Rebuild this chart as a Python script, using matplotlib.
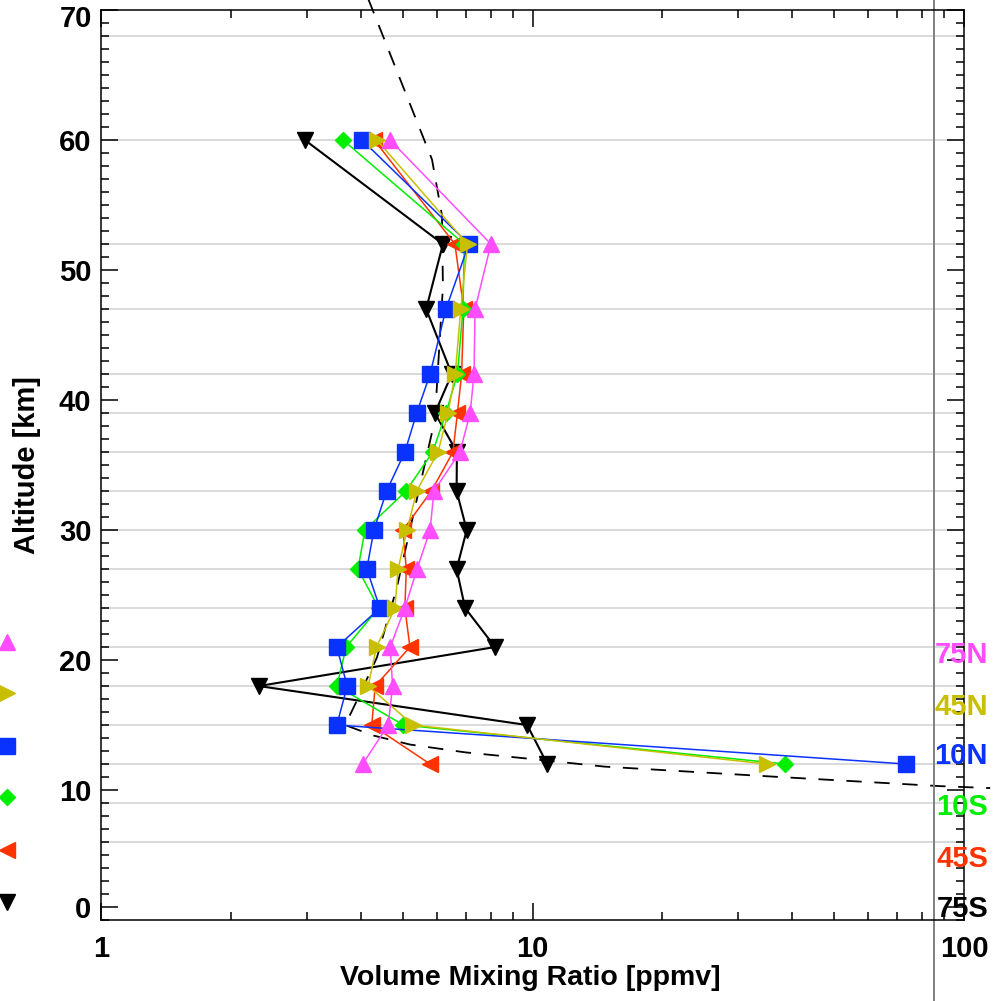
import matplotlib.pyplot as plt
from matplotlib.ticker import FixedLocator, NullFormatter

plt.rcParams['font.family'] = ['Liberation Sans', 'DejaVu Sans']

# altitude levels [km] of the profiles
altitude = [12, 15, 18, 21, 24, 27, 30, 33, 36, 39, 42, 47, 52, 60]

# volume mixing ratio [ppmv] per latitude band
vmr_75n = [4.04, 4.63, 4.74, 4.68, 5.06, 5.40, 5.79, 5.91, 6.79, 7.17, 7.32, 7.36, 8.01, 4.68]
vmr_45n = [34.9, 5.29, 4.16, 4.35, 4.80, 4.88, 5.12, 5.39, 6.04, 6.37, 6.62, 6.82, 7.07, 4.36]
vmr_10n = [73.4, 3.52, 3.72, 3.52, 4.43, 4.13, 4.29, 4.59, 5.06, 5.39, 5.79, 6.30, 7.12, 4.03]
vmr_10s = [38.5, 5.02, 3.52, 3.70, 4.40, 3.94, 4.09, 5.09, 5.87, 6.30, 6.70, 6.90, 6.95, 3.64]
vmr_45s = [5.79, 4.24, 4.32, 5.20, 5.06, 5.10, 5.01, 5.83, 6.54, 6.70, 6.85, 6.93, 6.61, 4.30]
vmr_75s = [10.82, 9.72, 2.32, 8.19, 6.98, 6.67, 7.04, 6.67, 6.68, 5.94, 6.50, 5.67, 6.20, 2.97]

# reference profile (dashed)
ref_vmr = [4.09, 5.85, 6.17, 6.20, 5.94, 5.57, 4.85, 4.36, 3.92, 3.68, 4.27, 5.20,
           6.98, 9.87, 14.7, 37.5, 88.0, 115.0]
ref_alt = [71.5, 58.5, 54.2, 48.7, 38.5, 34.4, 25.6, 20.2, 16.9, 15.0, 14.2, 13.5,
           12.9, 12.4, 11.8, 11.0, 10.3, 10.15]

# grey horizontal lines at the retrieval grid
grid_alt = [6, 9, 12, 15, 18, 21, 24, 27, 30, 33, 36, 39, 42, 47, 52, 60, 68]

y_ticks = [1, 10, 20, 30, 40, 50, 60, 70]
y_tick_labels = ["0", "10", "20", "30", "40", "50", "60", ""]
x_ticks = [1, 10, 100]
x_tick_labels = ["1", "10", "100"]

bands = ["75N", "45N", "10N", "10S", "45S", "75S"]
values = [vmr_75n, vmr_45n, vmr_10n, vmr_10s, vmr_45s, vmr_75s]
markers = ["^", ">", "s", "D", "<", "v"]
colors = ["#ff4dff", "#c8bf00", "#0a32ff", "#00ee00", "#ff3300", "#000000"]
msizes = [12, 12, 12, 8.5, 12, 12]
lwidths = [1.1, 1.1, 1.1, 1.1, 1.1, 1.5]

fig = plt.figure(figsize=(10, 10.01), dpi=100)
ax = fig.add_axes([0.101, 0.0809, 0.863, 0.909])

for a in grid_alt:
    ax.axhline(a, color="#d0d0d0", lw=1.1, zorder=0)

ax.plot(ref_vmr, ref_alt, color="black", lw=1.3, ls=(0, (8.5, 7)), clip_on=False, zorder=2)

# draw southern bands first so the northern ones end up on top
for i in reversed(range(len(bands))):
    ax.plot(values[i], altitude, color=colors[i], lw=lwidths[i], marker=markers[i],
            ms=msizes[i], mec=colors[i], mfc=colors[i], zorder=3)

ax.axvline(85.2, ymin=-0.09, ymax=1.012, color="#808080", lw=1.4, clip_on=False)

ax.set_xscale("log")
ax.set_xlim(1, 100)
ax.set_ylim(0, 70)
ax.xaxis.set_major_locator(FixedLocator(x_ticks))
ax.set_xticklabels(x_tick_labels)
ax.xaxis.set_minor_formatter(NullFormatter())
ax.yaxis.set_major_locator(FixedLocator(y_ticks))
ax.set_yticklabels(y_tick_labels)
ax.yaxis.set_minor_locator(FixedLocator(range(0, 71)))

ax.tick_params(which="both", direction="in", top=True, right=True, width=1.1,
               labelsize=21, color="black")
ax.tick_params(which="major", length=12)
ax.tick_params(which="minor", length=6)
ax.tick_params(axis="x", pad=11)
ax.tick_params(axis="y", pad=7)
for lab in ax.get_xticklabels() + ax.get_yticklabels():
    lab.set_fontweight("bold")
for s in ax.spines.values():
    s.set_linewidth(1.1)

# top label sits a little below its tick, as in the original
ax.text(-0.0104, 69.3, "70", transform=ax.get_yaxis_transform(), fontsize=21,
        fontweight="bold", ha="right", va="center")

ax.set_xlabel("Volume Mixing Ratio [ppmv]", fontsize=20.5, fontweight="bold")
ax.set_ylabel("Altitude [km]", fontsize=21, fontweight="bold")
ax.xaxis.label.set_va("top")
ax.yaxis.label.set_va("center")
ax.xaxis.set_label_coords(0.497, -0.0495)
ax.yaxis.set_label_coords(-0.0857, 0.50)

# legend: markers at the left edge, band names at the right edge
marker_rows = [642, 693, 746, 797, 850, 902]
label_rows = [655, 707, 756, 807, 859, 909]
for i in range(len(bands)):
    fig.lines.append(plt.Line2D([0.007], [1 - marker_rows[i] / 1001], transform=fig.transFigure,
                                marker=markers[i], ms=msizes[i], color=colors[i], ls="none"))
    fig.text(0.988, 1 - label_rows[i] / 1001, bands[i], color=colors[i], fontsize=21,
             fontweight="bold", ha="right", va="center")

fig.savefig("out.png", dpi=100)
